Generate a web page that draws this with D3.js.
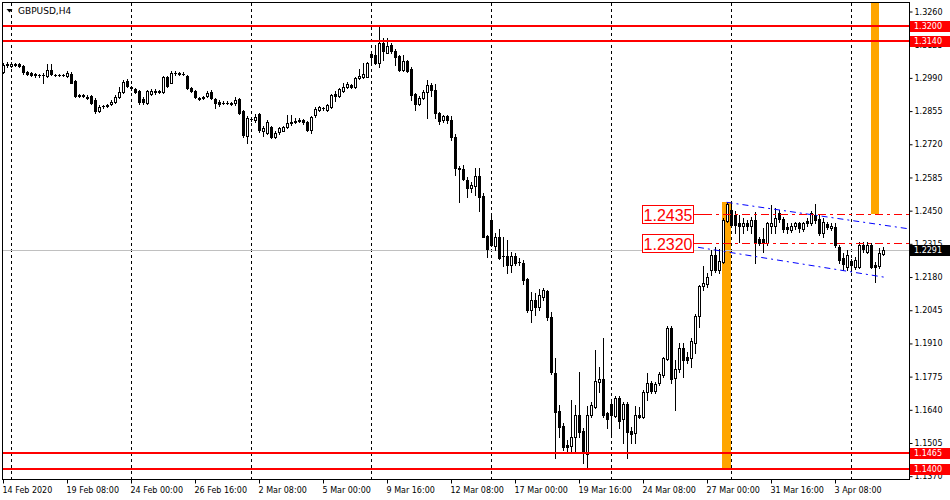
<!DOCTYPE html>
<html>
<head>
<meta charset="utf-8">
<script src="https://cdn.jsdelivr.net/npm/d3@7/dist/d3.min.js"></script>
<style>
html,body{margin:0;padding:0;background:#fff;}
svg{display:block;}
</style>
</head>
<body>
<svg id="chart" width="950" height="500"></svg>
<script>
const symbolTitle = "GBPUSD,H4";
const opens = [1.3012,1.3043,1.3039,1.3047,1.3047,1.3039,1.3014,1.3010,1.3006,1.3002,
1.3000,1.2998,1.3024,1.3002,1.3002,1.3001,1.2998,1.3006,1.2978,1.2917,
1.2919,1.2912,1.2917,1.2902,1.2856,1.2874,1.2876,1.2884,1.2890,1.2912,
1.2931,1.2978,1.2953,1.2945,1.2937,1.2904,1.2888,1.2925,1.2933,1.2931,
1.2933,1.2992,1.2971,1.3010,1.3008,1.3006,1.2998,1.2947,1.2937,1.2908,
1.2908,1.2915,1.2933,1.2906,1.2892,1.2888,1.2889,1.2888,1.2888,1.2906,
1.2856,1.2752,1.2823,1.2817,1.2845,1.2774,1.2766,1.2791,1.2750,1.2768,
1.2776,1.2791,1.2807,1.2811,1.2815,1.2819,1.2811,1.2778,1.2839,1.2860,
1.2866,1.2860,1.2872,1.2925,1.2917,1.2935,1.2952,1.2961,1.2952,1.2989,
1.2993,1.2995,1.3087,1.3083,1.3051,1.3132,1.3093,1.3124,1.3100,1.3079,
1.3022,1.3059,1.3028,1.2925,1.2884,1.2908,1.2931,1.2961,1.2941,1.2847,
1.2817,1.2835,1.2819,1.2749,1.2622,1.2618,1.2575,1.2541,1.2551,1.2591,
1.2510,1.2347,1.2412,1.2307,1.2344,1.2266,1.2266,1.2229,1.2266,1.2243,
1.2239,1.2171,1.2046,1.2087,1.2060,1.2099,1.2124,1.2019,1.1791,1.1637,
1.1574,1.1497,1.1493,1.1531,1.1619,1.1555,1.1461,1.1619,1.1653,1.1755,
1.1764,1.1626,1.1664,1.1615,1.1687,1.1602,1.1664,1.1555,1.1545,1.1619,
1.1610,1.1714,1.1748,1.1718,1.1748,1.1782,1.1846,1.1972,1.1768,1.1805,
1.1890,1.1854,1.1850,1.1913,1.2022,1.2144,1.2152,1.2209,1.2270,1.2209,
1.2243,1.2409,1.2453,1.2433,1.2401,1.2388,1.2401,1.2388,1.2412,1.2334,
1.2334,1.2320,1.2388,1.2388,1.2441,1.2415,1.2385,1.2372,1.2388,1.2399,
1.2374,1.2409,1.2399,1.2433,1.2415,1.2358,1.2396,1.2378,1.2383,1.2304,
1.2256,1.2222,1.2247,1.2220,1.2220,1.2311,1.2283,1.2311,1.2229,1.2225,1.2274];
const highs = [1.3051,1.3055,1.3055,1.3051,1.3051,1.3043,1.3018,1.3014,1.3010,1.3006,
1.3010,1.3047,1.3047,1.3006,1.3004,1.3004,1.3018,1.3014,1.2982,1.2925,
1.2925,1.2921,1.2921,1.2908,1.2880,1.2880,1.2884,1.2900,1.2921,1.2953,
1.2982,1.2986,1.2957,1.2949,1.2941,1.2912,1.2941,1.2945,1.2945,1.2941,
1.2998,1.2998,1.3018,1.3018,1.3014,1.3014,1.3002,1.2953,1.2941,1.2912,
1.2917,1.2937,1.2941,1.2908,1.2900,1.2896,1.2896,1.2892,1.2912,1.2908,
1.2860,1.2835,1.2831,1.2843,1.2847,1.2795,1.2819,1.2795,1.2774,1.2791,
1.2795,1.2839,1.2839,1.2827,1.2827,1.2823,1.2815,1.2835,1.2872,1.2876,
1.2872,1.2884,1.2925,1.2937,1.2949,1.2971,1.2974,1.2965,1.2994,1.3025,
1.3052,1.3055,1.3097,1.3124,1.3197,1.3152,1.3152,1.3132,1.3108,1.3083,
1.3083,1.3063,1.3035,1.2929,1.2917,1.2941,1.2980,1.2969,1.2965,1.2852,
1.2839,1.2839,1.2835,1.2762,1.2632,1.2636,1.2587,1.2568,1.2622,1.2622,
1.2521,1.2351,1.2429,1.2358,1.2374,1.2344,1.2331,1.2283,1.2277,1.2258,
1.2250,1.2176,1.2121,1.2117,1.2132,1.2136,1.2128,1.2039,1.1850,1.1660,
1.1585,1.1518,1.1680,1.1660,1.1795,1.1566,1.1656,1.1673,1.1884,1.1813,
1.1931,1.1633,1.1673,1.1697,1.1697,1.1673,1.1673,1.1572,1.1656,1.1653,
1.1721,1.1791,1.1759,1.1755,1.1795,1.1856,1.1981,1.1981,1.1843,1.1911,
1.1911,1.1877,1.1931,1.2030,1.2148,1.2225,1.2197,1.2290,1.2302,1.2294,
1.2420,1.2487,1.2481,1.2450,1.2433,1.2419,1.2412,1.2426,1.2446,1.2344,
1.2379,1.2405,1.2473,1.2460,1.2453,1.2426,1.2399,1.2399,1.2405,1.2405,
1.2405,1.2420,1.2450,1.2477,1.2433,1.2419,1.2405,1.2399,1.2399,1.2311,
1.2277,1.2290,1.2252,1.2263,1.2324,1.2324,1.2324,1.2320,1.2243,1.2297,1.2304];
const lows = [1.3008,1.3035,1.3035,1.3039,1.3035,1.3006,1.3002,1.2998,1.2994,1.2994,
1.2969,1.2994,1.3002,1.2998,1.2998,1.2998,1.2994,1.2969,1.2912,1.2912,
1.2912,1.2904,1.2884,1.2847,1.2852,1.2868,1.2872,1.2880,1.2888,1.2908,
1.2929,1.2953,1.2941,1.2929,1.2884,1.2884,1.2884,1.2921,1.2925,1.2929,
1.2929,1.2953,1.2969,1.3002,1.3002,1.3000,1.2945,1.2933,1.2908,1.2900,
1.2904,1.2912,1.2904,1.2868,1.2876,1.2884,1.2884,1.2880,1.2880,1.2843,
1.2750,1.2725,1.2815,1.2811,1.2770,1.2754,1.2762,1.2746,1.2746,1.2762,
1.2774,1.2787,1.2799,1.2807,1.2811,1.2803,1.2774,1.2767,1.2831,1.2856,
1.2860,1.2856,1.2868,1.2898,1.2912,1.2931,1.2949,1.2949,1.2949,1.2985,
1.2990,1.2992,1.3050,1.3047,1.3035,1.3063,1.3091,1.3091,1.3043,1.3018,
1.3018,1.3014,1.2900,1.2860,1.2880,1.2904,1.2827,1.2917,1.2827,1.2803,
1.2811,1.2807,1.2738,1.2595,1.2487,1.2575,1.2506,1.2527,1.2514,1.2450,
1.2343,1.2263,1.2306,1.2290,1.2252,1.2225,1.2198,1.2202,1.2229,1.2229,
1.2152,1.2038,1.1999,1.2026,1.2046,1.2087,1.2006,1.1786,1.1443,1.1531,
1.1477,1.1470,1.1470,1.1470,1.1531,1.1425,1.1402,1.1612,1.1646,1.1714,
1.1612,1.1565,1.1529,1.1612,1.1565,1.1504,1.1443,1.1504,1.1504,1.1607,
1.1606,1.1680,1.1707,1.1710,1.1741,1.1775,1.1843,1.1748,1.1640,1.1795,
1.1775,1.1829,1.1816,1.1870,1.1978,1.2128,1.2140,1.2189,1.2201,1.2197,
1.2238,1.2404,1.2388,1.2358,1.2324,1.2358,1.2372,1.2361,1.2239,1.2311,
1.2283,1.2311,1.2358,1.2361,1.2405,1.2365,1.2361,1.2365,1.2374,1.2365,
1.2367,1.2388,1.2392,1.2399,1.2351,1.2344,1.2374,1.2372,1.2301,1.2239,
1.2209,1.2209,1.2206,1.2212,1.2216,1.2283,1.2277,1.2216,1.2161,1.2216,1.2270];
const closes = [1.3043,1.3045,1.3047,1.3043,1.3037,1.3012,1.3006,1.3002,1.3002,1.3001,
1.3002,1.3024,1.3004,1.3001,1.3001,1.3002,1.3008,1.2971,1.2917,1.2921,
1.2917,1.2908,1.2888,1.2856,1.2872,1.2876,1.2878,1.2892,1.2912,1.2933,
1.2974,1.2957,1.2949,1.2933,1.2890,1.2892,1.2937,1.2937,1.2935,1.2935,
1.2994,1.2957,1.3010,1.3008,1.3006,1.3005,1.2949,1.2935,1.2912,1.2906,
1.2911,1.2929,1.2908,1.2888,1.2884,1.2889,1.2888,1.2884,1.2902,1.2847,
1.2758,1.2827,1.2821,1.2831,1.2778,1.2787,1.2811,1.2750,1.2766,1.2785,
1.2789,1.2807,1.2809,1.2815,1.2819,1.2809,1.2778,1.2831,1.2862,1.2870,
1.2868,1.2880,1.2921,1.2915,1.2943,1.2954,1.2965,1.2952,1.2989,1.2998,
1.3006,1.3050,1.3076,1.3050,1.3132,1.3098,1.3120,1.3098,1.3075,1.3022,
1.3059,1.3020,1.2921,1.2884,1.2910,1.2933,1.2961,1.2939,1.2847,1.2813,
1.2835,1.2817,1.2750,1.2622,1.2620,1.2578,1.2541,1.2555,1.2591,1.2507,
1.2344,1.2293,1.2311,1.2342,1.2256,1.2264,1.2229,1.2266,1.2239,1.2241,
1.2168,1.2044,1.2087,1.2060,1.2107,1.2128,1.2017,1.1794,1.1633,1.1572,
1.1488,1.1489,1.1531,1.1619,1.1551,1.1466,1.1619,1.1660,1.1757,1.1764,
1.1619,1.1602,1.1619,1.1687,1.1596,1.1664,1.1551,1.1542,1.1619,1.1610,
1.1714,1.1748,1.1718,1.1745,1.1786,1.1850,1.1972,1.1764,1.1805,1.1890,
1.1843,1.1843,1.1921,1.2022,1.2144,1.2156,1.2179,1.2270,1.2209,1.2247,
1.2412,1.2477,1.2392,1.2392,1.2388,1.2401,1.2388,1.2412,1.2320,1.2320,
1.2320,1.2399,1.2401,1.2419,1.2415,1.2374,1.2374,1.2388,1.2399,1.2378,
1.2399,1.2399,1.2440,1.2412,1.2358,1.2405,1.2385,1.2388,1.2311,1.2250,
1.2233,1.2270,1.2229,1.2250,1.2311,1.2293,1.2311,1.2222,1.2220,1.2277,1.2291];

const timeLabelBars = [0,16,32,48,64,80,96,112,128,144,160,176,192,208];
const timeLabels = ["14 Feb 2020","19 Feb 08:00","24 Feb 00:00","26 Feb 16:00","2 Mar 08:00","5 Mar 00:00","9 Mar 16:00","12 Mar 08:00","17 Mar 00:00","19 Mar 16:00","24 Mar 08:00","27 Mar 00:00","31 Mar 16:00","3 Apr 08:00"];
const weekStartBars = [2,32,62,92,122,152,182,212];
const priceTicks = [1.3260,1.3125,1.2990,1.2855,1.2720,1.2585,1.2450,1.2315,1.2180,1.2045,1.1910,1.1775,1.1640,1.1505,1.1370];
const levelLines = [1.3200,1.3140,1.1465,1.1400];
const bidPrice = 1.2291;
const boxLevels = [1.2435,1.2320];
const boxLabels = ["1.2435","1.2320"];
const boxAnchorBar = 172.4;
const boxLineStartBar = 175.25;
const channelUpper = [[180.9,1.2484],[226.5,1.2376]];
const channelLower = [[173.75,1.2301],[220.5,1.2179]];
const zoneBars0 = [179.8,217];
const zoneBars1 = [181.9,218.9];
const zoneTop = [1.2487,1.3300];
const zoneBottom = [1.1400,1.2435];

const svg = d3.select("#chart");
const P = {l:2.5, t:2.5, r:909.5, b:479.5};
const x = d3.scaleLinear().domain([0,220]).range([3,883]);
const y = d3.scaleLinear().domain([1.1370,1.3260]).range([476.2,11.5]);
const AX = "DejaVu Sans";

svg.append("rect").attr("width",950).attr("height",500).attr("fill","#fff");
svg.append("defs").append("clipPath").attr("id","clip")
  .append("rect").attr("x",P.l).attr("y",P.t).attr("width",P.r-P.l).attr("height",P.b-P.t);

const plot = svg.append("g").attr("clip-path","url(#clip)").attr("shape-rendering","crispEdges");

// orange zones
plot.selectAll("rect.zone").data(zoneBars0).join("rect").attr("class","zone")
  .attr("x",d=>Math.round(x(d)))
  .attr("width",(d,i)=>Math.round(x(zoneBars1[i]))-Math.round(x(d)))
  .attr("y",(d,i)=>Math.round(y(zoneTop[i])))
  .attr("height",(d,i)=>Math.round(y(zoneBottom[i]))-Math.round(y(zoneTop[i])))
  .attr("fill","#ffa500");

// grid (week separators)
plot.selectAll("line.grid").data(weekStartBars).join("line").attr("class","grid")
  .attr("x1",d=>Math.round(x(d))+0.5).attr("x2",d=>Math.round(x(d))+0.5)
  .attr("y1",P.t).attr("y2",P.b)
  .attr("stroke","#000").attr("stroke-dasharray","3,3");

// bid line
plot.append("line").attr("x1",P.l).attr("x2",P.r)
  .attr("y1",Math.round(y(bidPrice))+0.5).attr("y2",Math.round(y(bidPrice))+0.5)
  .attr("stroke","#c0c0c0");

// candles
const bars = opens.map((o,i)=>({i,o,h:highs[i],l:lows[i],c:closes[i]}));
const cg = plot.append("g");
bars.forEach(b=>{
  const cx = Math.round(x(b.i))+0.5;
  cg.append("line").attr("x1",cx).attr("x2",cx)
    .attr("y1",Math.round(y(b.h))).attr("y2",Math.round(y(b.l))+1)
    .attr("stroke","#000");
  const yt = Math.round(y(Math.max(b.o,b.c)))+0.5;
  const yb = Math.round(y(Math.min(b.o,b.c)))+0.5;
  if (yb-yt < 1) {
    cg.append("line").attr("x1",cx-1.5).attr("x2",cx+1.5).attr("y1",yt).attr("y2",yt).attr("stroke","#000");
  } else {
    cg.append("rect").attr("x",cx-1).attr("width",2).attr("y",yt).attr("height",yb-yt)
      .attr("fill",b.c>=b.o?"#fff":"#000").attr("stroke","#000");
  }
});

// horizontal level lines
plot.selectAll("line.lvl").data(levelLines).join("line").attr("class","lvl")
  .attr("x1",P.l).attr("x2",P.r)
  .attr("y1",d=>Math.round(y(d))).attr("y2",d=>Math.round(y(d)))
  .attr("stroke","#ff0000").attr("stroke-width",2);

// channel lines
[channelUpper,channelLower].forEach(ch=>{
  plot.append("line")
    .attr("x1",x(ch[0][0])).attr("y1",y(ch[0][1]))
    .attr("x2",x(ch[1][0])).attr("y2",y(ch[1][1]))
    .attr("stroke","#0000ff").attr("stroke-dasharray","6,4,2,4")
    .attr("shape-rendering","auto");
});

// boxed levels
boxLevels.forEach((lv,i)=>{
  const yy = Math.round(y(lv))+0.5;
  const xr = Math.round(x(boxAnchorBar))+0.5;
  const xs = Math.round(x(boxLineStartBar));
  plot.append("line").attr("x1",xr).attr("x2",xs).attr("y1",yy).attr("y2",yy).attr("stroke","#ff0000");
  plot.append("line").attr("x1",xs).attr("x2",P.r).attr("y1",yy).attr("y2",yy)
    .attr("stroke","#ff0000").attr("stroke-dasharray","8,4,3,4");
  plot.append("rect").attr("x",xr-51).attr("y",yy-9).attr("width",51).attr("height",18)
    .attr("fill","#fff").attr("stroke","#ff0000");
  svg.append("text").attr("x",xr-25.5).attr("y",yy+6).attr("text-anchor","middle")
    .attr("font-family","Liberation Sans, Arial, sans-serif").attr("font-size",16)
    .attr("fill","#ff0000").text(boxLabels[i]);
});

// frame
svg.append("rect").attr("x",P.l).attr("y",P.t).attr("width",P.r-P.l).attr("height",P.b-P.t)
  .attr("fill","none").attr("stroke","#000").attr("shape-rendering","crispEdges");

// price axis
const yAxis = d3.axisRight(y).tickValues(priceTicks).tickSize(3).tickPadding(2).tickFormat(d3.format(".4f"));
const ya = svg.append("g").attr("transform",`translate(${P.r},0)`).call(yAxis);
ya.select(".domain").remove();
ya.selectAll("text").attr("font-family",AX).attr("font-size",8).attr("fill","#000");

// time axis
const xAxis = d3.axisBottom(x).tickValues(timeLabelBars).tickSize(4).tickPadding(4)
  .tickFormat((d,i)=>timeLabels[i]);
const xa = svg.append("g").attr("transform",`translate(0,${P.b})`).call(xAxis);
xa.select(".domain").remove();
xa.selectAll("text").attr("text-anchor","start").attr("x",-1)
  .attr("font-family",AX).attr("font-size",8).attr("fill","#000");

// right-side price labels
function priceTag(p, fill){
  const yy = y(p);
  svg.append("rect").attr("x",910).attr("y",Math.round(yy)-5.5).attr("width",40).attr("height",11)
    .attr("fill",fill).attr("shape-rendering","crispEdges");
  svg.append("text").attr("x",914).attr("y",yy).attr("dy","0.35em")
    .attr("font-family",AX).attr("font-size",8).attr("fill","#fff").text(p.toFixed(4));
}
levelLines.forEach(p=>priceTag(p,"#ff0000"));
priceTag(bidPrice,"#000");

// title
svg.append("path").attr("d","M6.5,9 L12.5,9 L9.5,12.5 Z").attr("fill","#000");
svg.append("text").attr("x",18).attr("y",13.5)
  .attr("font-family",AX).attr("font-size",9).attr("fill","#000").text(symbolTitle);
</script>
</body>
</html>
